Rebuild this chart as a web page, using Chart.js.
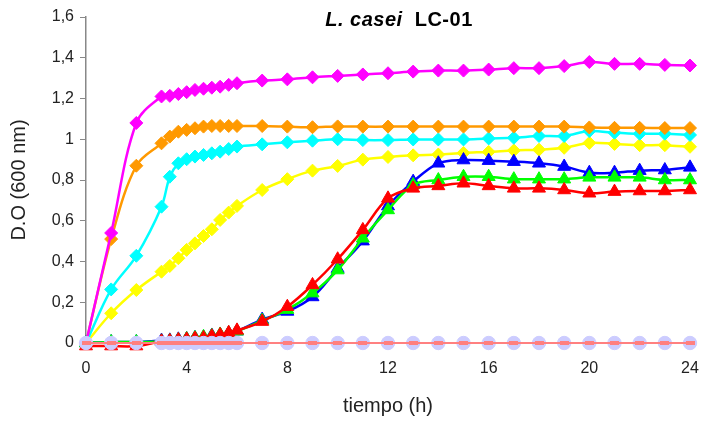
<!DOCTYPE html>
<html>
<head>
<meta charset="utf-8">
<script src="https://cdn.jsdelivr.net/npm/chart.js@4/dist/chart.umd.min.js"></script>
<style>
  html, body { margin: 0; padding: 0; background: #fff; }
  #wrap { position: relative; width: 703px; height: 422px; }
  #title {
    position: absolute; top: 7px; left: 0; width: 798px; text-align: center;
    font-family: "Liberation Sans", Arial, sans-serif; font-weight: bold; font-size: 20px; color: #000;
    letter-spacing: 0.5px; white-space: pre; line-height: 24px;
  }
</style>
</head>
<body>
<div id="wrap">
  <canvas id="c" width="703" height="422"></canvas>
  <div id="title"><i>L. casei</i>  LC-01</div>
</div>
<script>
// Sampling times (h)
const hours = [0, 1, 2, 3, 3.33, 3.67, 4, 4.33, 4.67, 5, 5.33, 5.67, 6,
  7, 8, 9, 10, 11, 12, 13, 14, 15, 16, 17, 18, 19, 20, 21, 22, 23, 24];

// Optical density at 600 nm, one array per culture
const magenta = [0, 0.54, 1.08, 1.21, 1.213, 1.222, 1.231, 1.242, 1.248, 1.253, 1.258, 1.267, 1.275,
  1.288, 1.294, 1.304, 1.311, 1.318, 1.324, 1.332, 1.337, 1.337, 1.342, 1.349, 1.349, 1.359, 1.379, 1.37, 1.37, 1.365, 1.362];
const orange = [0, 0.51, 0.87, 0.98, 1.013, 1.037, 1.046, 1.054, 1.062, 1.065, 1.065, 1.065, 1.065,
  1.065, 1.062, 1.059, 1.063, 1.062, 1.062, 1.062, 1.062, 1.062, 1.062, 1.062, 1.062, 1.062, 1.058, 1.056, 1.056, 1.055, 1.055];
const cyan = [0, 0.263, 0.428, 0.669, 0.816, 0.882, 0.902, 0.915, 0.923, 0.931, 0.939, 0.952, 0.964,
  0.975, 0.985, 0.993, 1.0, 0.996, 0.996, 0.999, 0.999, 0.999, 1.004, 1.007, 1.016, 1.016, 1.04, 1.032, 1.027, 1.027, 1.021];
const yellow = [0, 0.146, 0.26, 0.35, 0.378, 0.416, 0.457, 0.489, 0.525, 0.558, 0.604, 0.64, 0.673,
  0.751, 0.804, 0.846, 0.869, 0.9, 0.913, 0.921, 0.925, 0.933, 0.938, 0.945, 0.949, 0.958, 0.982, 0.977, 0.971, 0.971, 0.963];
const blue = [0, 0.005, 0.005, 0.012, 0.013, 0.018, 0.02, 0.025, 0.028, 0.037, 0.04, 0.048, 0.058,
  0.115, 0.155, 0.226, 0.365, 0.5, 0.672, 0.792, 0.882, 0.898, 0.895, 0.89, 0.882, 0.866, 0.836, 0.836, 0.846, 0.849, 0.862];
const green = [0, 0.005, 0.005, 0.008, 0.01, 0.015, 0.02, 0.025, 0.03, 0.035, 0.042, 0.048, 0.058,
  0.11, 0.164, 0.245, 0.358, 0.514, 0.653, 0.776, 0.8, 0.816, 0.816, 0.804, 0.804, 0.804, 0.813, 0.813, 0.813, 0.8, 0.8];
const red = [-0.015, -0.015, -0.015, 0.008, 0.01, 0.015, 0.018, 0.022, 0.025, 0.033, 0.04, 0.05, 0.062,
  0.105, 0.178, 0.285, 0.411, 0.555, 0.71, 0.759, 0.771, 0.784, 0.771, 0.759, 0.759, 0.751, 0.735, 0.743, 0.746, 0.746, 0.751];
const blank = [0, 0, 0, 0, 0, 0, 0, 0, 0, 0, 0, 0, 0,
  0, 0, 0, 0, 0, 0, 0, 0, 0, 0, 0, 0, 0, 0, 0, 0, 0, 0];
const blankRef = [0, 0, 0, 0, 0, 0, 0, 0, 0, 0, 0, 0, 0,
  0, 0, 0, 0, 0, 0, 0, 0, 0, 0, 0, 0, 0, 0, 0, 0, 0, 0];

// Axis tick values
const xTicks = [0, 4, 8, 12, 16, 20, 24];
const yTicks = [0, 0.2, 0.4, 0.6, 0.8, 1, 1.2, 1.4, 1.6];

const pts = arr => arr.map((v, i) => ({ x: hours[i], y: v }));

// Short horizontal dash used as the marker of the reference series
const dashMarker = document.createElement('canvas');
dashMarker.width = 9; dashMarker.height = 4;
(() => { const g = dashMarker.getContext('2d'); g.fillStyle = '#ff7f7f'; g.fillRect(0, 0, 9, 4); })();

function series(label, values, color, style, radius, order) {
  return {
    label, data: pts(values), order,
    borderColor: color, backgroundColor: color,
    pointBackgroundColor: color, pointBorderColor: color,
    pointStyle: style, pointRadius: radius, pointHoverRadius: radius,
    pointBorderWidth: 1, borderWidth: 2.5, tension: 0.35, clip: false
  };
}

const datasets = [
  series('blankRef', blankRef, '#ff8080', dashMarker, 4, 0),
  series('blank', blank, '#ccccff', 'circle', 6.7, 1),
  series('magenta', magenta, '#ff00ff', 'rectRot', 6.5, 2),
  series('red', red, '#ff0000', 'triangle', 7.5, 3),
  series('green', green, '#00ff00', 'triangle', 7.5, 4),
  series('blue', blue, '#0000ff', 'triangle', 7.5, 5),
  series('orange', orange, '#ff9900', 'rectRot', 6.5, 6),
  series('cyan', cyan, '#00ffff', 'rectRot', 6.5, 7),
  series('yellow', yellow, '#ffff00', 'rectRot', 6.5, 8)
];
datasets[0].borderWidth = 2;
datasets[1].showLine = false;

const family = '"Liberation Sans", Arial, sans-serif';
const tickFont = { family, size: 16 };
const fmt = v => String(Math.round(v * 10) / 10).replace('.', ',');

new Chart(document.getElementById('c'), {
  type: 'line',
  data: { datasets },
  options: {
    responsive: false,
    animation: false,
    events: [],
    layout: { padding: { top: 17, right: 13, left: 0, bottom: 0 } },
    plugins: { legend: { display: false }, tooltip: { enabled: false }, title: { display: false } },
    scales: {
      x: {
        type: 'linear', min: 0, max: 24,
        afterFit: s => { s.height = 79; s.paddingLeft = 0; s.paddingRight = 0; },
        afterBuildTicks: s => { s.ticks = hours.filter(h => Number.isInteger(h)).map(v => ({ value: v })); },
        ticks: {
          autoSkip: false, maxRotation: 0, color: '#222', font: tickFont, padding: 11,
          callback: v => xTicks.includes(v) ? String(v) : ''
        },
        grid: { drawOnChartArea: false, drawTicks: true, tickLength: 5, color: '#888' },
        border: { display: true, color: '#888', width: 1.5 },
        title: { display: true, text: 'tiempo (h)', color: '#222', padding: { top: 14 },
          font: { family, size: 20 } }
      },
      y: {
        min: 0, max: 1.6,
        afterFit: s => { s.width = 86; s.paddingTop = 0; s.paddingBottom = 0; },
        afterBuildTicks: s => { s.ticks = yTicks.map(v => ({ value: v })); },
        ticks: { color: '#222', font: tickFont, padding: 6, callback: v => fmt(v) },
        grid: { drawOnChartArea: false, drawTicks: true, tickLength: 6, color: '#888' },
        border: { display: true, color: '#888', width: 1.5 },
        title: { display: true, text: 'D.O (600 nm)', color: '#222', padding: { top: 7, bottom: 0 },
          font: { family, size: 20 } }
      }
    }
  }
});
</script>
</body>
</html>
